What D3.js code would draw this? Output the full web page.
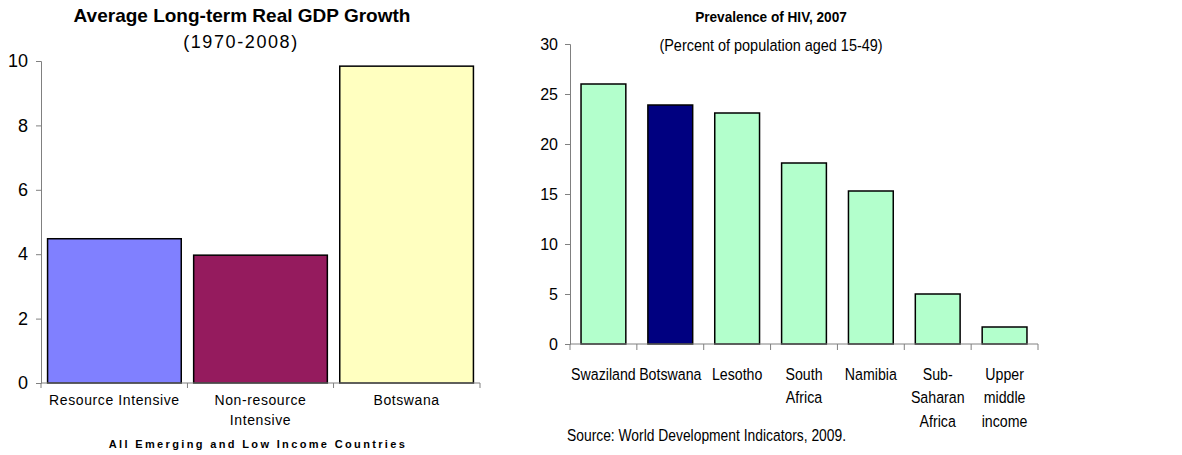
<!DOCTYPE html>
<html>
<head>
<meta charset="utf-8">
<script src="https://cdn.jsdelivr.net/npm/d3@7"></script>
<style>
  body { margin: 0; background: #fff; }
  svg { display: block; }
  text { fill: #000; }
</style>
</head>
<body>
<svg id="chart"></svg>
<script>
// left chart data
var gdpCategories = ["Resource Intensive", "Non-resource|Intensive", "Botswana"]
var gdpValues = [4.48, 3.97, 9.84]
var gdpColors = ["#8080FF", "#951B5E", "#FFFFC0"]
var gdpTicks = [0, 2, 4, 6, 8, 10]

// right chart data
var hivCategories = ["Swaziland", "Botswana", "Lesotho", "South|Africa", "Namibia", "Sub-|Saharan|Africa", "Upper|middle|income"]
var hivValues = [26.0, 23.9, 23.1, 18.1, 15.3, 5.0, 1.7]
var hivColors = ["#B3FFCC", "#000080", "#B3FFCC", "#B3FFCC", "#B3FFCC", "#B3FFCC", "#B3FFCC"]
var hivTicks = [0, 5, 10, 15, 20, 25, 30]

var width = 1182
var height = 455
var axisColor = "#808080"
var sans = "'Liberation Sans', Arial, sans-serif"

var svg = d3.select("#chart")
  .attr("width", width)
  .attr("height", height)

// squeezed text, the right chart uses a narrow face
function narrowText(g, x, y, lines, size, anchor, sx, lineGap, bold) {
  var t = g.append("text")
    .attr("transform", "translate(" + x + "," + y + ") scale(" + sx + ",1)")
    .attr("text-anchor", anchor)
    .style("font-family", sans)
    .style("font-size", size + "px")
    .style("font-weight", bold ? "bold" : "normal")
  lines.forEach(function (line, j) {
    t.append("tspan")
      .attr("x", 0)
      .attr("dy", j === 0 ? 0 : lineGap)
      .text(line)
  })
  return t
}

// ---------- left: GDP growth ----------
var x1 = d3.scaleBand()
  .domain(gdpCategories)
  .range([41, 480])
  .paddingInner(0.085)
  .paddingOuter(0.045)

var y1 = d3.scaleLinear()
  .domain([0, 10])
  .range([383, 61])

var g1 = svg.append("g")

g1.selectAll("rect")
  .data(gdpValues)
  .enter().append("rect")
  .attr("x", function (d, i) { return x1(gdpCategories[i]) })
  .attr("y", function (d) { return y1(d) })
  .attr("width", x1.bandwidth())
  .attr("height", function (d) { return y1(0) - y1(d) })
  .attr("fill", function (d, i) { return gdpColors[i] })
  .attr("stroke", "#000")
  .attr("stroke-width", 1.5)

var yAxis1 = g1.append("g")
  .attr("transform", "translate(41,0)")
  .call(d3.axisLeft(y1).tickValues(gdpTicks).tickSize(5).tickPadding(8))
yAxis1.selectAll("line, path").attr("stroke", axisColor)
yAxis1.selectAll("text")
  .style("font-family", sans)
  .style("font-size", "18px")
  .attr("fill", "#000")

// x axis with ticks at category boundaries
var xAxis1 = g1.append("g")
xAxis1.append("line")
  .attr("x1", 41).attr("x2", 480)
  .attr("y1", y1(0)).attr("y2", y1(0))
  .attr("stroke", axisColor)
var bounds1 = gdpCategories.map(function (c) { return x1(c) + x1.bandwidth() + x1.step() * x1.paddingInner() / 2 })
bounds1[bounds1.length - 1] = 480
xAxis1.selectAll("line.tk")
  .data([41].concat(bounds1))
  .enter().append("line")
  .attr("class", "tk")
  .attr("x1", function (d) { return d }).attr("x2", function (d) { return d })
  .attr("y1", y1(0)).attr("y2", y1(0) + 5)
  .attr("stroke", axisColor)

gdpCategories.forEach(function (c, i) {
  var t = g1.append("text")
    .attr("text-anchor", "middle")
    .attr("x", x1(c) + x1.bandwidth() / 2)
    .attr("y", 405)
    .style("font-family", sans)
    .style("font-size", "14px")
    .style("letter-spacing", "0.6px")
  c.split("|").forEach(function (line, j) {
    t.append("tspan")
      .attr("x", x1(c) + x1.bandwidth() / 2)
      .attr("dy", j === 0 ? 0 : 20)
      .text(line)
  })
})

g1.append("text")
  .attr("x", 258).attr("y", 448)
  .attr("text-anchor", "middle")
  .style("font-family", sans)
  .style("font-size", "11px")
  .style("font-weight", "bold")
  .style("letter-spacing", "2.35px")
  .text("All Emerging and Low Income Countries")

g1.append("text")
  .attr("x", 242).attr("y", 22)
  .attr("text-anchor", "middle")
  .style("font-family", sans)
  .style("font-size", "19px")
  .style("font-weight", "bold")
  .text("Average Long-term Real GDP Growth")

g1.append("text")
  .attr("x", 241).attr("y", 48)
  .attr("text-anchor", "middle")
  .style("font-family", sans)
  .style("font-size", "18px")
  .style("letter-spacing", "1.6px")
  .text("(1970-2008)")

// ---------- right: HIV prevalence ----------
var x2 = d3.scaleBand()
  .domain(hivCategories)
  .range([570, 1038])
  .paddingInner(0.33)
  .paddingOuter(0.165)

var y2 = d3.scaleLinear()
  .domain([0, 30])
  .range([344, 44])

var g2 = svg.append("g")

g2.selectAll("rect")
  .data(hivValues)
  .enter().append("rect")
  .attr("x", function (d, i) { return x2(hivCategories[i]) })
  .attr("y", function (d) { return y2(d) })
  .attr("width", x2.bandwidth())
  .attr("height", function (d) { return y2(0) - y2(d) })
  .attr("fill", function (d, i) { return hivColors[i] })
  .attr("stroke", "#000")
  .attr("stroke-width", 1.5)

var yAxis2 = g2.append("g")
  .attr("transform", "translate(570,0)")
  .call(d3.axisLeft(y2).tickValues(hivTicks).tickSize(5).tickPadding(7))
yAxis2.selectAll("line, path").attr("stroke", axisColor)
yAxis2.selectAll("text")
  .style("font-family", sans)
  .style("font-size", "16px")
  .attr("fill", "#000")

var xAxis2 = g2.append("g")
xAxis2.append("line")
  .attr("x1", 570).attr("x2", 1038)
  .attr("y1", y2(0)).attr("y2", y2(0))
  .attr("stroke", axisColor)
xAxis2.selectAll("line.tk")
  .data(d3.range(hivCategories.length + 1))
  .enter().append("line")
  .attr("class", "tk")
  .attr("x1", function (i) { return 570 + i * x2.step() }).attr("x2", function (i) { return 570 + i * x2.step() })
  .attr("y1", y2(0)).attr("y2", y2(0) + 6)
  .attr("stroke", axisColor)

hivCategories.forEach(function (c) {
  var cx = x2(c) + x2.bandwidth() / 2
  narrowText(g2, cx, 380, c.split("|"), 16.5, "middle", 0.86, 23.5, false)
})

narrowText(g2, 771, 22, ["Prevalence of HIV, 2007"], 15.5, "middle", 0.88, 0, true)
narrowText(g2, 771, 51, ["(Percent of population aged 15-49)"], 17, "middle", 0.85, 0, false)
narrowText(g2, 567, 441, ["Source: World Development Indicators, 2009."], 16.5, "start", 0.84, 0, false)
</script>
</body>
</html>
